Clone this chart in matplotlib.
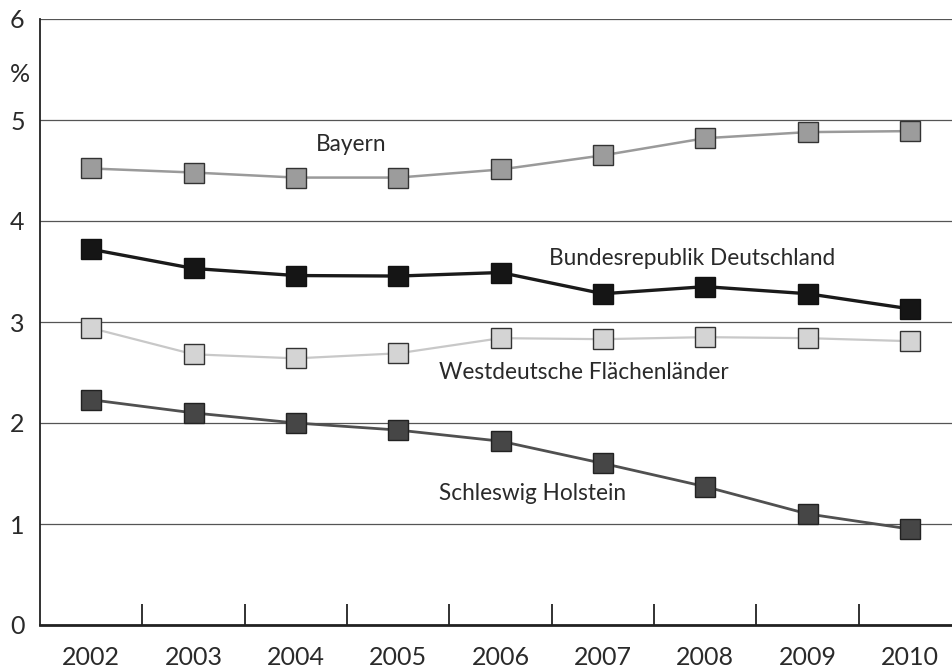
import matplotlib
matplotlib.use("Agg")
import matplotlib.pyplot as plt
from matplotlib.ticker import FixedLocator

plt.rcParams['font.family'] = ['Lato', 'DejaVu Sans']

years = [2002, 2003, 2004, 2005, 2006, 2007, 2008, 2009, 2010]
bayern = [4.52, 4.48, 4.43, 4.43, 4.51, 4.65, 4.82, 4.88, 4.89]
brd = [3.72, 3.53, 3.46, 3.455, 3.49, 3.28, 3.35, 3.28, 3.13]
west = [2.94, 2.68, 2.64, 2.69, 2.84, 2.83, 2.85, 2.84, 2.81]
sh = [2.23, 2.10, 2.00, 1.93, 1.82, 1.60, 1.37, 1.10, 0.95]
yticks = [0, 1, 2, 3, 4, 5, 6]

fig = plt.figure(figsize=(9.53, 6.70), dpi=100)
ax = fig.add_axes([40/953, 1-625/670, 1-40/953, (625-19)/670])

ax.set_xlim(2001.5, 2010.42)
ax.set_ylim(0, 6)
ax.set_yticks(yticks)
ax.yaxis.grid(True, color='#555555', linewidth=0.9)
ax.set_axisbelow(True)
ax.tick_params(axis='y', length=0, pad=11, labelsize=18, labelcolor='#2a2a2a')
ax.set_xticks(years)
ax.tick_params(axis='x', which='major', length=0, pad=15, labelsize=18, labelcolor='#2a2a2a')
ax.xaxis.set_minor_locator(FixedLocator([y + 0.5 for y in years[:-1]]))
ax.tick_params(axis='x', which='minor', direction='in', length=15, width=1.3, color='#222222')
for s in ['top', 'right']:
    ax.spines[s].set_visible(False)
ax.spines['left'].set_color('#222222')
ax.spines['left'].set_linewidth(1.3)
ax.spines['bottom'].set_color('#222222')
ax.spines['bottom'].set_linewidth(2.0)

ms = 15
ax.plot(years, west, color='#c8c8c8', lw=1.6, marker='s', ms=ms, mfc='#d4d4d4', mec='#333333', mew=1.0, zorder=3)
ax.plot(years, sh, color='#505050', lw=2.0, marker='s', ms=ms, mfc='#464646', mec='#222222', mew=1.0, zorder=3)
ax.plot(years, bayern, color='#9a9a9a', lw=1.8, marker='s', ms=ms, mfc='#9c9c9c', mec='#333333', mew=1.0, zorder=3)
ax.plot(years, brd, color='#1a1a1a', lw=2.4, marker='s', ms=ms, mfc='#151515', mec='#111111', mew=1.0, zorder=4)

tc = '#2a2a2a'
fs = 16.3
ax.text(2004.2, 4.76, 'Bayern', fontsize=fs, color=tc, va='center', ha='left')
ax.text(2006.47, 3.63, 'Bundesrepublik Deutschland', fontsize=fs, color=tc, va='center', ha='left')
ax.text(2005.4, 2.50, 'Westdeutsche Flächenländer', fontsize=fs, color=tc, va='center', ha='left')
ax.text(2005.4, 1.30, 'Schleswig Holstein', fontsize=fs, color=tc, va='center', ha='left')
fig.text(20/953, 1-75/670, '%', fontsize=18, color=tc, ha='center', va='center')

fig.savefig('out.png', dpi=100)
